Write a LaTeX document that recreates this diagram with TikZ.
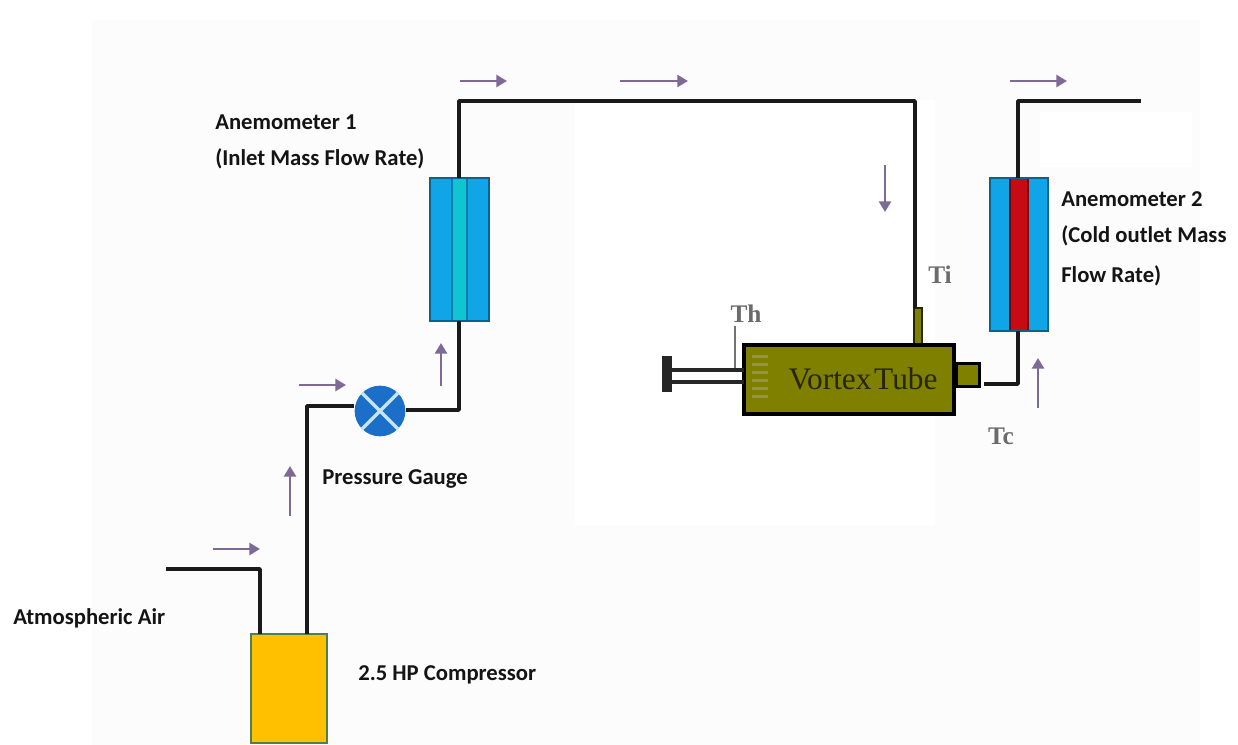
\documentclass[tikz,border=0pt]{standalone}
\usepackage{fontspec}
\setmainfont{Carlito}
\newfontfamily\tubefont{Liberation Serif}
\usetikzlibrary{arrows.meta}
\definecolor{pipec}{HTML}{1A1A1A}
\definecolor{flowc}{HTML}{7E6A96}
\definecolor{amber}{HTML}{FFC000}
\definecolor{skyb}{HTML}{0FA5E6}
\definecolor{teal2}{HTML}{10C4D2}
\definecolor{redb}{HTML}{C80A14}
\definecolor{olive2}{HTML}{7F7F00}
\definecolor{gaugeb}{HTML}{1C6FC8}
\definecolor{gaugel}{HTML}{C4E6F4}
\tikzset{
  x=0.75pt,y=-0.75pt,
  pipe/.style={draw=pipec,line width=2.8pt,line join=round},
  flow/.style={draw=flowc,line width=1.9pt,-{Triangle[length=8pt,width=9pt]}},
  lab/.style={inner sep=0pt,anchor=west,font=\fontsize{17}{20}\selectfont\bfseries,text=black!92},
  tlab/.style={inner sep=0pt,font=\tubefont\fontsize{19}{22}\selectfont\bfseries,text=black!58},
  box/.style={rectangle,inner sep=0pt,outer sep=0pt},
}
\begin{document}
\begin{tikzpicture}
\useasboundingbox (0,0) rectangle (1238,745);
\fill[white] (0,0) rectangle (1238,745);
\fill[black!1] (92,20) rectangle (1200,745);
\fill[white] (575,100) rectangle (935,525);
\fill[white] (1040,112) rectangle (1192,167);
% anchors for free ends and corners
\coordinate (airin) at (166,569);
\coordinate (c1) at (260,569);
\coordinate (c2) at (307,406);
\coordinate (c3) at (459,410);
\coordinate (c4) at (459,101);
\coordinate (c5) at (915,101);
\coordinate (c6) at (1018,384);
\coordinate (c7) at (1018,101);
\coordinate (airout) at (1141,101);
% compressor
\node[box,draw=black!50!green!40!gray,line width=1.6pt,fill=amber,minimum width=57pt,minimum height=81.5pt] (comp) at (289,688.5) {};
% gauge
\node[circle,inner sep=0pt,minimum size=38pt,fill=gaugeb] (gauge) at (380,411) {};
\draw[gaugel,line width=2.4pt] (362,393) -- (398,429) (398,393) -- (362,429);
% anemometer 1
\node[box,fill=skyb,draw=black!40!skyb,line width=1.2pt,minimum width=44pt,minimum height=107pt] (an1) at (459.5,249.5) {};
\fill[teal2] (452,179) rectangle (467,320);
\draw[black!25!skyb,line width=.8pt] (452,179) -- (452,320) (467,179) -- (467,320);
% anemometer 2
\node[box,fill=skyb,draw=black!40!skyb,line width=1.2pt,minimum width=43.5pt,minimum height=114.5pt] (an2) at (1019,254.5) {};
\fill[redb] (1010,179) rectangle (1028,330);
\draw[black!45!redb,line width=.8pt] (1010,179) -- (1010,330) (1028,179) -- (1028,330);
% vortex tube
\node[box,draw=black!70!olive2,line width=1.5pt,fill=olive2,minimum width=6.5pt,minimum height=27pt,anchor=south] (stubin) at (918,344) {};
\node[box,draw=black,line width=2.8pt,fill=olive2,minimum width=158pt,minimum height=52pt] (tube) at (849,379.5) {};
\node[box,draw=black,line width=1.8pt,fill=olive2,minimum width=17pt,minimum height=17pt,anchor=west] (stubout) at (957,375) {};
\node[box,fill=black!85,minimum width=7.5pt,minimum height=27pt] (cap) at (667,374) {};
\fill[white] (672,372) rectangle (742,380);
\draw[black!85,line width=2.6pt] (672,370) -- (tube.west |- 0,370);
\draw[black!85,line width=2.6pt] (672,382) -- (tube.west |- 0,382);
\foreach \y in {355,363,371,379,387,395} {\fill[black!20!olive2!70!white] (752,\y) rectangle (768,\y+3);}
\draw[black!55,line width=.8pt] (735,326) -- (735,368);
\node[inner sep=0pt,font=\tubefont\fontsize{23.5}{26}\selectfont,text=black!70!olive2] at (863,379) {Vortex\hspace{2pt}Tube};
% pipes
\draw[pipe] (airin) -- (c1) -- (c1 |- comp.north);
\draw[pipe] (c2 |- comp.north) -- (c2) -- (gauge.west |- c2);
\draw[pipe] (gauge.east |- c3) -- (c3) -- (c3 |- an1.south);
\draw[pipe] (c4 |- an1.north) -- (c4) -- (c5) -- (stubin.north -| c5);
\draw[pipe] (984,384) -- (c6) -- (c6 |- an2.south);
\draw[pipe] (c7 |- an2.north) -- (c7) -- (airout);
% flow arrows
\draw[flow] (213,549) -- (260,549);
\draw[flow] (290,516) -- (290,466);
\draw[flow] (299,385) -- (346,385);
\draw[flow] (441,386) -- (441,343);
\draw[flow] (460,81) -- (507,81);
\draw[flow] (620,81) -- (688,81);
\draw[flow] (885,165) -- (885,212);
\draw[flow] (1010,81) -- (1067,81);
\draw[flow] (1038,408) -- (1038,358);
% labels
\node[lab] (l1) at (215,122) {Anemometer 1};
\node[lab] (l2) at (215,159) {(Inlet Mass Flow Rate)};
\node[lab] (l3) at (322,479) {Pressure Gauge};
\node[lab] (l4) at (13,618) {Atmospheric Air};
\node[lab] (l5) at (358,675) {2.5 HP Compressor};
\node[lab] (l6) at (1061,199) {Anemometer 2};
\node[lab] (l7) at (1061,236) {(Cold outlet Mass};
\node[lab] (l8) at (1061,276) {Flow Rate)};
\node[tlab] (th) at (746,314) {Th};
\node[tlab] (ti) at (940,275) {Ti};
\node[tlab] (tc) at (1001,436) {Tc};
\end{tikzpicture}
\end{document}
